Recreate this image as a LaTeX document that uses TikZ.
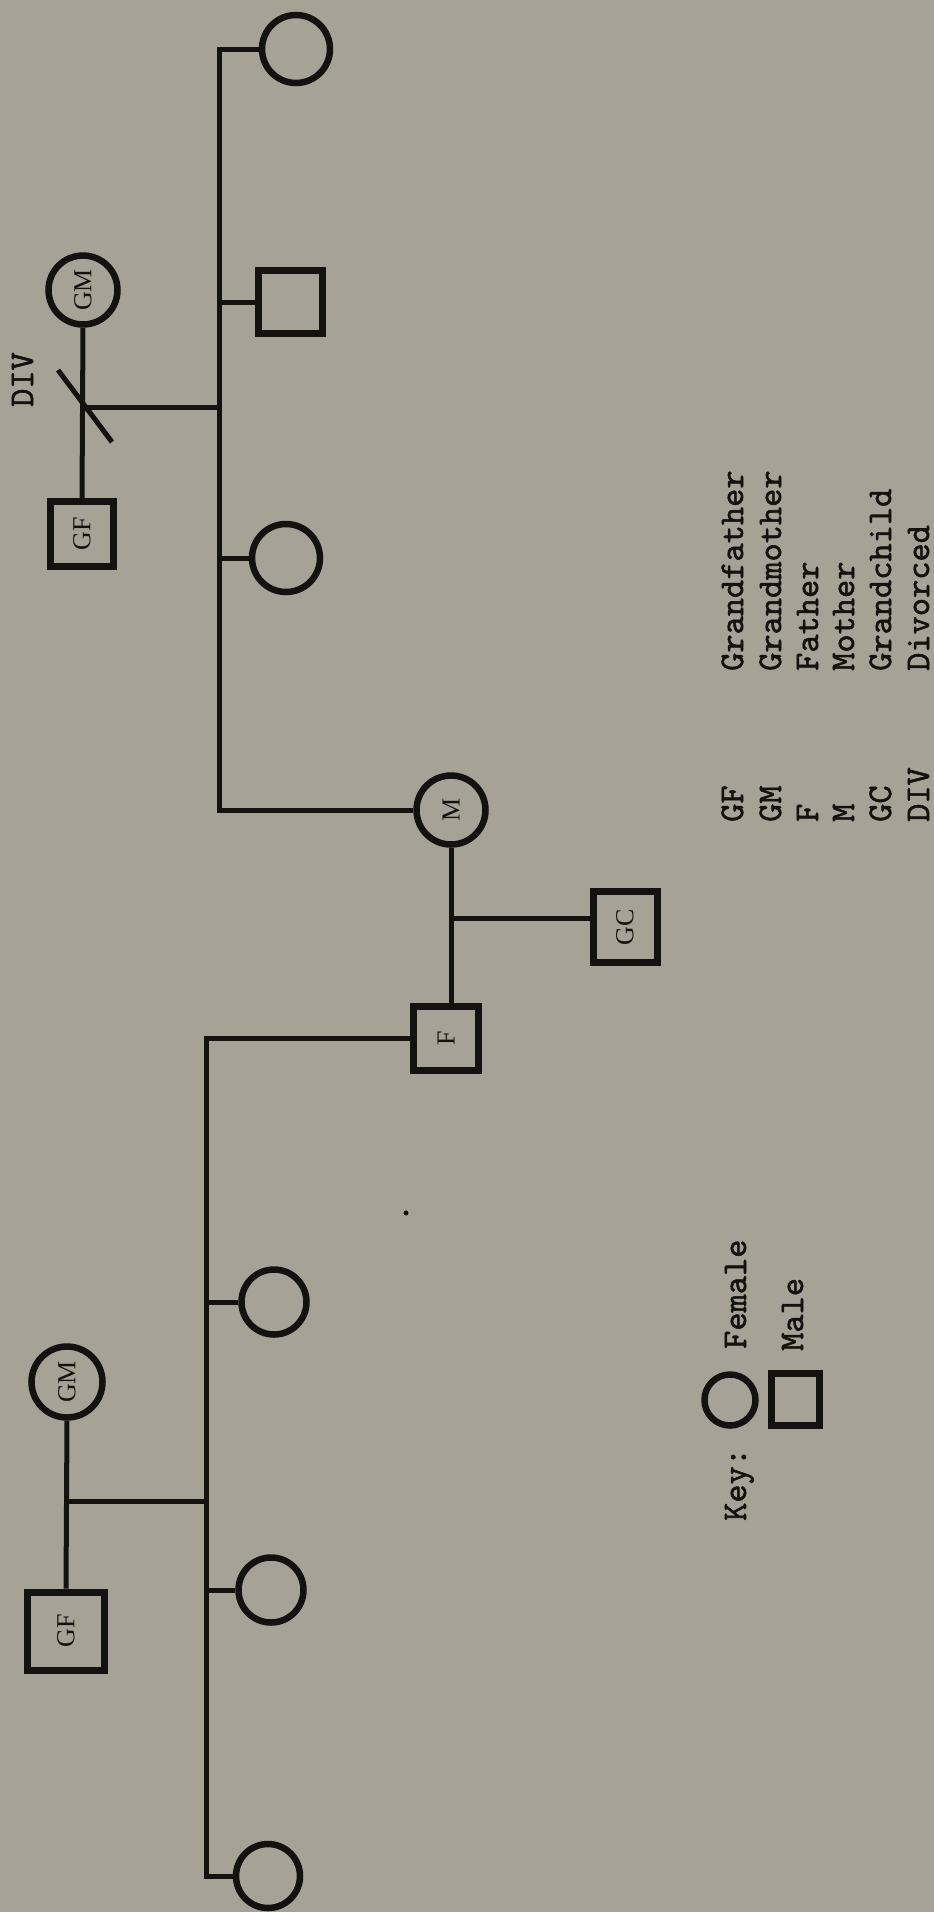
\documentclass[tikz,border=0pt]{standalone}
\usepackage{graphicx}
\usepackage{fontspec}
\newfontfamily\labelfont{Liberation Serif}
\newfontfamily\typefont[FakeBold=1.6]{lmmono10-regular.otf}
\definecolor{paper}{RGB}{166,162,149}
\definecolor{ink}{RGB}{20,18,16}
\tikzset{
  fem/.style={draw=ink, circle, line width=6.5pt, inner sep=0pt,
    font=\labelfont\fontsize{26}{26}\selectfont},
  male/.style={draw=ink, rectangle, line width=7pt, inner sep=0pt,
    font=\labelfont\fontsize{26}{26}\selectfont},
  typew/.style={font=\typefont\fontsize{34.7}{40}\selectfont, inner sep=0pt,
    anchor=base west, rotate=90, text=ink},
  tie/.style={draw=ink, line width=5pt}
}
\begin{document}
\begin{tikzpicture}[x=1pt, y=-1pt, color=ink]
  % page and background
  \useasboundingbox (0,0) rectangle (934,1912);
  \fill[paper] (0,0) rectangle (934,1912);

  % ---------- mother's family ----------
  \coordinate (mLine) at (219,0);
  \node[fem, minimum size=68] (mC1) at (296,49) {};
  \node[male, minimum width=64, minimum height=63] (mS1) at (290,302) {};
  \node[fem, minimum size=68] (mC2) at (286,558) {};
  \node[fem, minimum size=69] (M) at (451,810) {\rotatebox{90}{M}};
  \node[fem, minimum size=69] (mGM) at (83,290) {\rotatebox{90}{GM}};
  \node[male, minimum width=63, minimum height=65] (mGF) at (82,534) {\rotatebox{90}{GF}};

  \draw[tie] (mC1.west) -| (mLine |- M.west) -- (M.west);
  \draw[tie] (mLine |- mS1.west) -- (mS1.west);
  \draw[tie] (mLine |- mC2.west) -- (mC2.west);
  \draw[tie] (mGM.south) -- (mGF.north);
  \coordinate (mKnot) at (82,407);
  \draw[tie] (mKnot) -- (mLine |- mKnot);
  % divorce stroke
  \coordinate (divA) at (58,370);
  \coordinate (divB) at (112,442);
  \draw[tie] (divA) -- (divB);
  \node[typew] (divLbl) at (33,407) {DIV};

  % ---------- parents and grandchild ----------
  \node[male, minimum width=65, minimum height=64] (F) at (446,1038) {\rotatebox{90}{F}};
  \draw[tie] (M.south) -- (M.south |- F.north);
  \node[male, minimum width=64, minimum height=71] (GC) at (625,927) {\rotatebox{90}{GC}};
  \coordinate (gcKnot) at (451,918);
  \draw[tie] (gcKnot) -- (gcKnot -| GC.west);

  % ---------- father's family ----------
  \coordinate (pLine) at (206,0);
  \node[fem, minimum size=65] (pC3) at (274,1302) {};
  \node[fem, minimum size=65] (pC4) at (271,1590) {};
  \node[fem, minimum size=64] (pC5) at (268,1876) {};
  \node[fem, minimum size=71] (pGM) at (67,1382) {\rotatebox{90}{GM}};
  \node[male, minimum width=77, minimum height=78] (pGF) at (66,1631) {\rotatebox{90}{GF}};

  \draw[tie] (F.west) -| (pLine |- pC5.west) -- (pC5.west);
  \draw[tie] (pLine |- pC3.west) -- (pC3.west);
  \draw[tie] (pLine |- pC4.west) -- (pC4.west);
  \draw[tie] (pGM.south) -- (pGF.north);
  \coordinate (pKnot) at (65,1501);
  \draw[tie] (pKnot) -- (pLine |- pKnot);

  % small speck
  \node[circle, fill=ink, inner sep=0pt, minimum size=5] (speck) at (406,1213) {};

  % ---------- key ----------
  \node[typew] (keyLbl) at (746,1521) {Key:};
  \node[fem, minimum size=51] (keyF) at (730,1400) {};
  \node[male, minimum width=48, minimum height=52] (keyM) at (795,1399) {};
  \node[typew] (keyFem) at (746,1349) {Female};
  \node[typew] (keyMale) at (803,1351) {Male};

  % ---------- abbreviations ----------
  \foreach \abb/\wrd/\xx [count=\i] in {GF/Grandfather/743, GM/Grandmother/781,
      F/Father/818, M/Mother/854, GC/Grandchild/891, DIV/Divorced/929} {
    \node[typew] (ab\i) at (\xx,822) {\abb};
    \node[typew] (wrd\i) at (\xx,671) {\wrd};
  }
\end{tikzpicture}
\end{document}
